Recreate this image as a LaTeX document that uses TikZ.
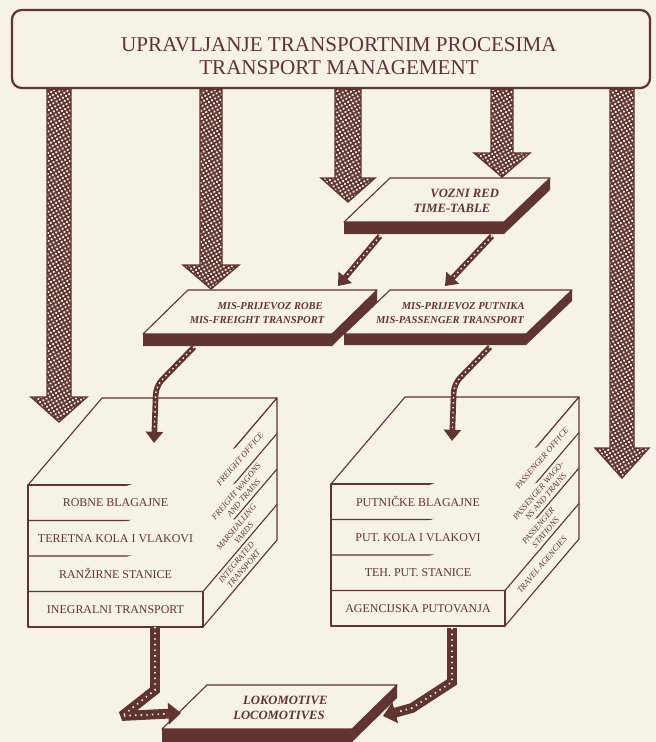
\documentclass[tikz,border=0pt]{standalone}
\usepackage{fontspec}
\setmainfont{Liberation Serif}
\usetikzlibrary{calc, arrows.meta, patterns.meta}

\definecolor{ink}{RGB}{96,52,48}
\definecolor{paper}{RGB}{246,242,231}

\tikzset{
  face/.style={draw=ink, fill=paper, line width=0.8pt, line join=round},
  topbox/.style={draw=ink, fill=paper, line width=1.6pt, rounded corners=7pt,
    minimum width=15.95cm, minimum height=1.95cm},
  titletext/.style={text=ink, align=center, font=\fontsize{15}{16.5}\selectfont},
  slabtext/.style={text=ink, align=center, inner sep=0pt,
    font=\fontsize{7.5}{9.5}\selectfont\bfseries\itshape},
  rowtext/.style={text=ink, inner sep=0pt, font=\fontsize{8.5}{10}\selectfont},
  sidetext/.style={text=ink, align=center, inner sep=0pt, rotate=49.6,
    font=\fontsize{6}{6.9}\selectfont\itshape},
  blockarr/.style={draw=ink, line width=1pt, line join=miter, preaction={fill=ink},
    pattern={Dots[radius=0.9pt, distance=2.6pt, angle=30]}, pattern color=paper},
  thinarr/.style={draw=ink, line width=4pt, -{Triangle[width=12pt, length=8pt]},
    postaction={draw=paper, line width=1pt, dash pattern=on 1pt off 2.5pt,
      arrows=-, shorten >=9pt}},
  locoarr/.style={draw=ink, line width=7pt, line join=miter, miter limit=3,
    -{Triangle[width=15pt, length=9pt]},
    postaction={draw=paper, line width=1.2pt, dash pattern=on 1pt off 3pt,
      arrows=-, shorten >=10pt}}
}

% wide block arrow: start, tip, half shaft, half head, head length
\newcommand{\bigarrow}[5]{%
  \path[blockarr] ($(#1)+(-#3,0)$) -- ($(#2)+(-#3,-#5)$) -- ($(#2)+(-#4,-#5)$)
    -- (#2) -- ($(#2)+(#4,-#5)$) -- ($(#2)+(#3,-#5)$) -- ($(#1)+(#3,0)$) -- cycle;}

% flat slab: x, y of back left corner, width, slant, thickness
\newcommand{\slab}[5]{%
  \draw[face] (#1,#2) -- ({#1+#3},#2) -- ({#1+#3-#4},{#2+44}) -- ({#1-#4},{#2+44}) -- cycle;
  \fill[ink] ({#1-#4},{#2+44}) -- ({#1+#3-#4},{#2+44}) -- ({#1+#3},#2) -- ({#1+#3},{#2+#5})
    -- ({#1+#3-#4},{#2+44+#5}) -- ({#1-#4},{#2+44+#5}) -- cycle;}

% box with four layers, front width as argument
\newcommand{\cubebody}[1]{%
  \draw[face] (0,0) -- (74,-87) -- ({#1+74},-87) -- (#1,0) -- cycle;
  \draw[face] (#1,0) -- ({#1+74},-87) -- ({#1+74},55) -- (#1,142) -- cycle;
  \draw[face] (0,0) rectangle (#1,142);
  \draw[face] (0,35.5) -- (#1,35.5) -- ({#1+74},-51.5);
  \draw[face] (0,71) -- (#1,71) -- ({#1+74},-16);
  \draw[face] (0,106.5) -- (#1,106.5) -- ({#1+74},19.5);}

\begin{document}
\begin{tikzpicture}[x=0.025cm, y=-0.025cm]
    % Page
    \fill[paper] (0,0) rectangle (656,742);
    \useasboundingbox (0,0) rectangle (656,742);

    % Management box
    \node[topbox] (tm) at (331,49) {};
    \node[titletext] (tmt) at (339,56) {UPRAVLJANJE TRANSPORTNIM PROCESIMA\\TRANSPORT MANAGEMENT};

    % Connector ends
    \coordinate (a1) at (59,422);
    \coordinate (a2) at (211,289);
    \coordinate (a3) at (348,202);
    \coordinate (a4) at (502,177);
    \coordinate (a5) at (622,478);
    \coordinate (t1s) at (380,236);
    \coordinate (t1e) at (338,286);
    \coordinate (t2s) at (492,236);
    \coordinate (t2e) at (445,286);
    \coordinate (m1s) at (194,347);
    \coordinate (m1e) at (154,443);
    \coordinate (m2s) at (490,347);
    \coordinate (m2e) at (452,441);
    \coordinate (l1s) at (155,627);
    \coordinate (l1e) at (181,713);
    \coordinate (l2s) at (452,628);
    \coordinate (l2e) at (383,716);

    % Arrows out of the management box
    \bigarrow{tm.south -| a1}{a1}{12}{28}{25}
    \bigarrow{tm.south -| a2}{a2}{11}{28}{24}
    \bigarrow{tm.south -| a3}{a3}{13}{27}{24}
    \bigarrow{tm.south -| a4}{a4}{11}{28}{24}
    \bigarrow{tm.south -| a5}{a5}{12}{27}{30}

    % Time-table
    \slab{390}{178}{160}{46}{12}
    \node[slabtext, font=\fontsize{9}{11}\selectfont\bfseries\itshape] (tt) at (452,201) {\hspace*{2em}VOZNI RED\\TIME-TABLE};

    % MIS slabs
    \slab{188}{290}{189}{45}{12}
    \node[slabtext] (misf) at (257,313) {\hspace*{2.5em}MIS-PRIJEVOZ ROBE\\MIS-FREIGHT TRANSPORT};
    \slab{390}{290}{182}{46}{11}
    \node[slabtext] (misp) at (450,313) {\hspace*{2.5em}MIS-PRIJEVOZ PUTNIKA\\MIS-PASSENGER TRANSPORT};

    \draw[thinarr] (t1s) -- (t1e);
    \draw[thinarr] (t2s) -- (t2e);

    % Freight block
    \begin{scope}[shift={(28,485)}]
        \cubebody{175}
        \node[rowtext] (lc1) at (87.5,17.75) {ROBNE BLAGAJNE};
        \node[rowtext] (lc2) at (87.5,53.25) {TERETNA KOLA I VLAKOVI};
        \node[rowtext] (lc3) at (87.5,88.75) {RANŽIRNE STANICE};
        \node[rowtext] (lc4) at (87.5,124.25) {INEGRALNI TRANSPORT};
        \node[sidetext] (ls1) at (212,-25.75) {FREIGHT OFFICE};
        \node[sidetext] (ls2) at (212,9.75) {FREIGHT WAGONS\\AND TRAINS};
        \node[sidetext] (ls3) at (212,45.25) {MARSHALLING\\YARDS};
        \node[sidetext] (ls4) at (212,80.75) {INTEGRATED\\TRANSPORT};
    \end{scope}

    % Passenger block
    \begin{scope}[shift={(331,484)}]
        \cubebody{174}
        \node[rowtext] (rc1) at (87,17.75) {PUTNIČKE BLAGAJNE};
        \node[rowtext] (rc2) at (87,53.25) {PUT. KOLA I VLAKOVI};
        \node[rowtext] (rc3) at (87,88.75) {TEH. PUT. STANICE};
        \node[rowtext] (rc4) at (87,124.25) {AGENCIJSKA PUTOVANJA};
        \node[sidetext] (rs1) at (211,-25.75) {PASSENGER OFFICE};
        \node[sidetext] (rs2) at (211,9.75) {PASSENGER WAGO-\\NS AND TRAINS};
        \node[sidetext] (rs3) at (211,45.25) {PASSENGER\\STATIONS};
        \node[sidetext] (rs4) at (211,80.75) {TRAVEL AGENCIES};
    \end{scope}

    \draw[thinarr, rounded corners=6pt] (m1s) -- (156,386) -- (m1e);
    \draw[thinarr, rounded corners=6pt] (m2s) -- (454,384) -- (m2e);

    % Locomotives
    \slab{207}{685}{190}{45}{13}
    \node[slabtext, font=\fontsize{9}{11}\selectfont\bfseries\itshape] (loco) at (279,708) {\hspace*{1em}LOKOMOTIVE\\LOCOMOTIVES};

    \draw[locoarr] (l1s) -- (155,690) -- (122,716) -- (l1e);
    \draw[locoarr] (l2s) -- (452,682) -- (412,708) -- (l2e);
\end{tikzpicture}
\end{document}
